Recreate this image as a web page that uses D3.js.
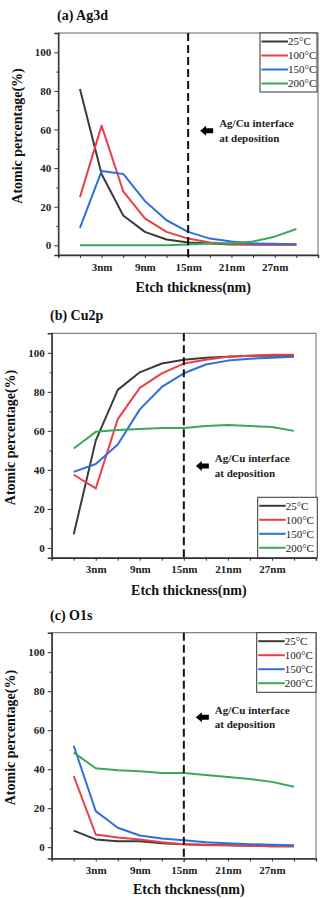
<!DOCTYPE html>
<html>
<head>
<meta charset="utf-8">
<script src="https://cdn.jsdelivr.net/npm/d3@7"></script>
<style>
  body { margin: 0; background: #fff; }
  svg { display: block; font-family: "Liberation Serif", "Times New Roman", serif; }
</style>
</head>
<body>
<svg id="chart" width="323" height="898"></svg>
<script>
// etch depth (nm) of each measurement
const thickness = [0, 3, 6, 9, 12, 15, 18, 21, 24, 27, 30];
const temps = ["25°C", "100°C", "150°C", "200°C"];
const colors = ["#3b3b3b", "#e8404a", "#2f6fdc", "#3aa856"];
const xTickValues = [0, 3, 6, 9, 12, 15, 18, 21, 24, 27, 30];
const xTickLabels = [3, 9, 15, 21, 27];
const yTickValues = [0, 20, 40, 60, 80, 100];
const yMinorTicks = [10, 30, 50, 70, 90];

// (a) Ag3d
const ag25 = [81, 37, 15.5, 7, 3, 1.5, 1, 0.5, 0.5, 0.5, 0.5];
const ag100 = [25, 62, 28, 14, 7, 3.5, 1.5, 0.8, 0.5, 0.3, 0.3];
const ag150 = [9, 38.5, 37, 23, 13, 7, 3.5, 2, 1, 0.8, 0.5];
const ag200 = [0, 0, 0, 0, 0, 0.5, 1, 1, 2, 4.5, 8.5];

// (b) Cu2p
const cu25 = [7, 55, 81, 90, 94.5, 96.5, 97.5, 98, 98.5, 98.5, 98.5];
const cu100 = [37.5, 30.5, 66, 82, 89.5, 94.5, 96.5, 98, 98.5, 99, 99];
const cu150 = [39, 43, 53, 71, 82.5, 89.5, 94, 96, 97, 97.5, 98];
const cu200 = [51, 59.5, 60.5, 61, 61.5, 61.5, 62.5, 63, 62.5, 62, 60];

// (c) O1s
const o25 = [8.5, 4, 3, 3, 2, 1.5, 1.2, 1, 0.8, 0.5, 0.5];
const o100 = [36.5, 6.5, 5, 4, 2.5, 1.5, 1, 1, 0.8, 0.5, 0.5];
const o150 = [52, 18.5, 10, 6, 4.5, 3.5, 2.5, 2, 1.5, 1.2, 1];
const o200 = [48.5, 40.5, 39.5, 39, 38, 38, 37, 36, 35, 33.5, 31];

const interfaceAt = 15;

const panels = [
  { title: "(a) Ag3d", series: [ag25, ag100, ag150, ag200], xLabel: "Etch thickness(nm)",
    box: { left: 58.3, right: 318, top: 33, bottom: 255 }, yMin: -5, titleX: 57, titleY: 20,
    yLabelX: 17, xLabelY: 292, legend: { x: 260, y: 33, w: 57, h: 59 }, noteY: 59.4 },
  { title: "(b) Cu2p", series: [cu25, cu100, cu150, cu200], xLabel: "Etch thickness(nm)",
    box: { left: 51.7, right: 316, top: 333.3, bottom: 557.7 }, yMin: -5, titleX: 50, titleY: 320,
    yLabelX: 10, xLabelY: 595, legend: { x: 257.7, y: 497.3, w: 59.6, h: 60.4 }, noteY: 42 },
  { title: "(c) O1s", series: [o25, o100, o150, o200], xLabel: "Etch thckness(nm)",
    box: { left: 51.7, right: 316, top: 632.7, bottom: 858.5 }, yMin: -5.8, titleX: 50, titleY: 620,
    yLabelX: 10, xLabelY: 894, legend: { x: 256.7, y: 632.7, w: 59.3, h: 59.6 }, noteY: 66.6 }
];

const svg = d3.select("#chart");

panels.forEach(p => {
  const b = p.box;
  const x = d3.scaleLinear().domain([-3, 33]).range([b.left, b.right]);
  const y = d3.scaleLinear().domain([p.yMin, 110]).range([b.bottom, b.top]);
  const g = svg.append("g");

  // frame
  g.append("rect")
    .attr("x", b.left).attr("y", b.top)
    .attr("width", b.right - b.left).attr("height", b.bottom - b.top)
    .attr("fill", "none").attr("stroke", "#666").attr("stroke-width", 1);

  // x axis
  const xAxis = g.append("g")
    .attr("transform", `translate(0,${b.bottom})`)
    .call(d3.axisBottom(x).tickValues(xTickValues).tickSize(3).tickPadding(5)
      .tickFormat(d => xTickLabels.includes(d) ? d + "nm" : ""));
  xAxis.select(".domain").attr("stroke", "#333").attr("stroke-width", 1.4);
  xAxis.selectAll(".tick line").attr("stroke", "#333");
  xAxis.selectAll("text").attr("font-size", 11).attr("font-weight", "bold")
    .attr("fill", "#222").attr("font-family", "Liberation Serif");

  // y axis
  const yAxis = g.append("g")
    .attr("transform", `translate(${b.left},0)`)
    .call(d3.axisLeft(y).tickValues(yTickValues).tickSize(4).tickPadding(3));
  yAxis.select(".domain").attr("stroke", "#333").attr("stroke-width", 1.4);
  yAxis.selectAll(".tick line").attr("stroke", "#333");
  yAxis.selectAll("text").attr("font-size", 11).attr("font-weight", "bold")
    .attr("fill", "#222").attr("font-family", "Liberation Serif");
  g.append("g")
    .attr("transform", `translate(${b.left},0)`)
    .call(d3.axisLeft(y).tickValues(yMinorTicks).tickSize(2).tickFormat(""))
    .call(a => a.select(".domain").remove())
    .selectAll("line").attr("stroke", "#333");

  // series
  const line = d3.line().x((d, i) => x(thickness[i])).y(d => y(d));
  p.series.forEach((s, i) => {
    g.append("path").datum(s)
      .attr("d", line)
      .attr("fill", "none")
      .attr("stroke", colors[i])
      .attr("stroke-width", 2)
      .attr("stroke-linejoin", "round");
  });

  // interface marker
  g.append("line")
    .attr("x1", x(interfaceAt)).attr("x2", x(interfaceAt))
    .attr("y1", b.top).attr("y2", b.bottom + 3)
    .attr("stroke", "#111").attr("stroke-width", 2)
    .attr("stroke-dasharray", "8,4");

  const ax = x(interfaceAt) + 12, ay = y(p.noteY);
  g.append("path")
    .attr("d", `M${ax},${ay} L${ax + 6},${ay - 5} L${ax + 6},${ay - 2.5} L${ax + 13},${ay - 2.5} L${ax + 13},${ay + 2.5} L${ax + 6},${ay + 2.5} L${ax + 6},${ay + 5} Z`)
    .attr("fill", "#000");
  const note = g.append("text")
    .attr("x", ax + 19).attr("y", ay - 3.5)
    .attr("font-size", 11).attr("font-weight", "bold").attr("fill", "#222");
  note.append("tspan").attr("x", ax + 19).text("Ag/Cu interface");
  note.append("tspan").attr("x", ax + 19).attr("dy", 14.5).text("at deposition");

  // legend
  const L = p.legend;
  g.append("rect")
    .attr("x", L.x).attr("y", L.y).attr("width", L.w).attr("height", L.h)
    .attr("fill", "#fff").attr("stroke", "#333").attr("stroke-width", 1);
  temps.forEach((t, i) => {
    const ly = L.y + 8.5 + i * 14;
    g.append("line")
      .attr("x1", L.x + 1.5).attr("x2", L.x + 28)
      .attr("y1", ly).attr("y2", ly)
      .attr("stroke", colors[i]).attr("stroke-width", 2);
    g.append("text")
      .attr("x", L.x + 28).attr("y", ly).attr("dy", "0.35em")
      .attr("font-size", 11).attr("fill", "#222")
      .text(t);
  });

  // titles
  g.append("text")
    .attr("x", p.titleX).attr("y", p.titleY)
    .attr("font-size", 14).attr("font-weight", "bold").attr("fill", "#111")
    .text(p.title);

  g.append("text")
    .attr("x", (b.left + b.right) / 2 + 5).attr("y", p.xLabelY)
    .attr("text-anchor", "middle")
    .attr("font-size", 14).attr("font-weight", "bold").attr("fill", "#111")
    .text(p.xLabel);

  const cy = (b.top + b.bottom) / 2 - 8;
  g.append("text")
    .attr("transform", `translate(${p.yLabelX},${cy}) rotate(-90)`)
    .attr("text-anchor", "middle").attr("dy", "0.35em")
    .attr("font-size", 14).attr("font-weight", "bold").attr("fill", "#111")
    .text("Atomic percentage(%)");
});
</script>
</body>
</html>
